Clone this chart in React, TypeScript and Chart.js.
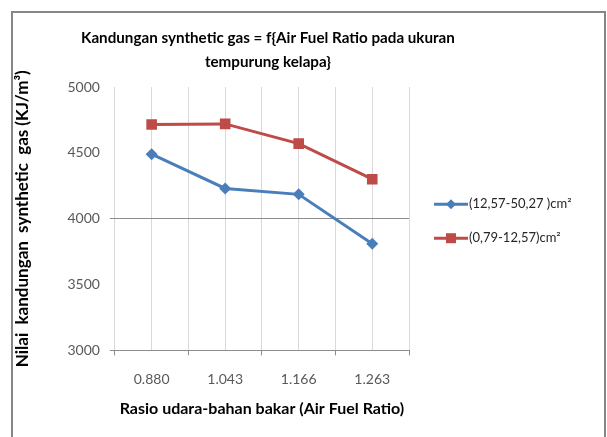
import React, { useEffect, useRef } from 'react';
import { Chart, registerables } from 'chart.js';

Chart.register(...registerables);

const categories = ['0.880', '1.043', '1.166', '1.263'];
const seriesA = [4490, 4230, 4185, 3810];
const seriesB = [4715, 4720, 4570, 4300];
const seriesLabels = ['(12,57-50,27 )cm²', '(0,79-12,57)cm²'];
const yMin = 3000;
const yMax = 5000;
const yStep = 500;
const titleLines = ['Kandungan synthetic gas = f{Air Fuel Ratio pada ukuran', 'tempurung kelapa}'];
const yTitle = 'Nilai  kandungan  synthetic  gas (KJ/m³)';
const xTitle = 'Rasio udara-bahan bakar (Air Fuel Ratio)';

const BLUE = '#4a7ebb';
const RED = '#be4b48';
const FONT = 'Lato';
const TITLE_SIZE = 15.2;
const TITLE_FONT = `bold ${TITLE_SIZE}px ${FONT}`;
const LEGEND_FONT = `13px ${FONT}`;

// draws the (space-reserved) title text centred slightly right of the plot centre
const titleDrawer = {
  id: 'titleDrawer',
  afterDraw(chart: any) {
    const t = chart.titleBlock;
    if (!t) return;
    const ctx = chart.ctx;
    const pad = t._padding || { top: 0, height: 0 };
    const lh = (t.height - pad.height) / titleLines.length;
    const top = t.top + pad.top;
    const cx = (chart.chartArea.left + chart.chartArea.right) / 2 + 6;
    ctx.save();
    ctx.font = TITLE_FONT;
    ctx.fillStyle = '#000';
    ctx.textAlign = 'center';
    ctx.textBaseline = 'middle';
    titleLines.forEach((l, i) => ctx.fillText(l, cx, top + lh * (i + 0.5)));
    ctx.restore();
  },
};

// Excel-style legend: line + marker + label, drawn right of the plot area
const legendDrawer = {
  id: 'legendDrawer',
  afterDraw(chart: any) {
    const ctx = chart.ctx;
    const ca = chart.chartArea;
    const dsets = chart.data.datasets;
    const x0 = ca.right + 25;
    const cy = (ca.top + ca.bottom) / 2 + 2.5;
    const gap = 34;
    ctx.save();
    dsets.forEach((ds: any, i: number) => {
      const y = cy + (i - (dsets.length - 1) / 2) * gap;
      ctx.strokeStyle = ds.borderColor;
      ctx.lineWidth = 3;
      ctx.beginPath();
      ctx.moveTo(x0, y);
      ctx.lineTo(x0 + 34, y);
      ctx.stroke();
      ctx.fillStyle = ds.borderColor;
      const mx = x0 + 17;
      if (ds.pointStyle === 'rectRot') {
        ctx.beginPath();
        ctx.moveTo(mx, y - 5);
        ctx.lineTo(mx + 5, y);
        ctx.lineTo(mx, y + 5);
        ctx.lineTo(mx - 5, y);
        ctx.closePath();
        ctx.fill();
      } else {
        ctx.fillRect(mx - 5, y - 5, 10, 10);
      }
      ctx.font = LEGEND_FONT;
      ctx.fillStyle = '#262626';
      ctx.textAlign = 'left';
      ctx.textBaseline = 'middle';
      ctx.fillText(ds.label, x0 + 35, y);
    });
    ctx.restore();
  },
};

export default function App() {
  const ref = useRef<HTMLCanvasElement>(null);
  useEffect(() => {
    document.body.style.overflow = 'hidden';
    const chart = new Chart(ref.current!, {
      type: 'line',
      data: {
        datasets: [
          {
            label: seriesLabels[0],
            data: seriesA.map((y, i) => ({ x: i, y })),
            borderColor: BLUE,
            backgroundColor: BLUE,
            borderWidth: 3,
            pointStyle: 'rectRot',
            pointRadius: 6,
            pointBorderWidth: 0,
            tension: 0,
          },
          {
            label: seriesLabels[1],
            data: seriesB.map((y, i) => ({ x: i, y })),
            borderColor: RED,
            backgroundColor: RED,
            borderWidth: 3,
            pointStyle: 'rect',
            pointRadius: 7.5,
            pointBorderWidth: 0,
            tension: 0,
          },
        ],
      },
      plugins: [titleDrawer, legendDrawer],
      options: {
        animation: false,
        responsive: true,
        maintainAspectRatio: false,
        layout: { padding: { top: 26, left: 8, right: 198, bottom: 19 } },
        plugins: {
          tooltip: { enabled: false },
          legend: { display: false },
          title: {
            display: true,
            text: titleLines,
            color: 'rgba(0,0,0,0)',
            font: { family: FONT, size: TITLE_SIZE, weight: 'bold', lineHeight: 1.58 },
            padding: { top: 0, bottom: 13 },
          },
        },
        scales: {
          x: {
            type: 'linear',
            min: -0.5,
            max: categories.length - 0.5,
            border: { display: true, color: '#8c8c8c', width: 1 },
            grid: {
              color: '#d9d9d9',
              lineWidth: 1,
              tickLength: 5,
              tickColor: (c: any) => (Number.isInteger(c.tick?.value) ? 'transparent' : '#8c8c8c'),
            },
            ticks: {
              stepSize: 0.5,
              autoSkip: false,
              maxRotation: 0,
              padding: 15.5,
              color: '#595959',
              font: { family: FONT, size: 14 },
              callback: (v: any) => (Number.isInteger(v) ? categories[v] : ''),
            },
            title: {
              display: true,
              text: xTitle,
              color: '#000',
              font: { family: FONT, size: 16, weight: 'bold' },
              padding: { top: -4.4, bottom: 0 },
            },
          },
          y: {
            min: yMin,
            max: yMax,
            border: { display: false },
            grid: {
              color: (c: any) => (c.tick?.value === 4000 ? '#8c8c8c' : 'transparent'),
              tickLength: 5,
              tickColor: (c: any) =>
                c.tick?.value === 4000 || c.tick?.value === 3000 ? '#8c8c8c' : 'transparent',
            },
            ticks: {
              stepSize: yStep,
              padding: 10,
              color: '#595959',
              font: { family: FONT, size: 14 },
              callback: (v: any) => String(v),
            },
            title: {
              display: true,
              text: yTitle,
              color: '#000',
              font: { family: FONT, size: 17, weight: 'bold' },
              padding: { top: 4, bottom: 25 },
            },
          },
        },
      },
    });
    return () => chart.destroy();
  }, []);

  return (
    <div style={{ position: 'fixed', left: 0, top: 0, width: 607, height: 437, background: '#fff' }}>
      <div
        style={{
          position: 'absolute',
          left: 11,
          top: 11,
          width: 595,
          height: 440,
          border: '2px solid #868686',
          boxSizing: 'border-box',
        }}
      />
      <div style={{ position: 'absolute', left: 0, top: 0, width: 607, height: 437 }}>
        <canvas ref={ref} />
      </div>
    </div>
  );
}
